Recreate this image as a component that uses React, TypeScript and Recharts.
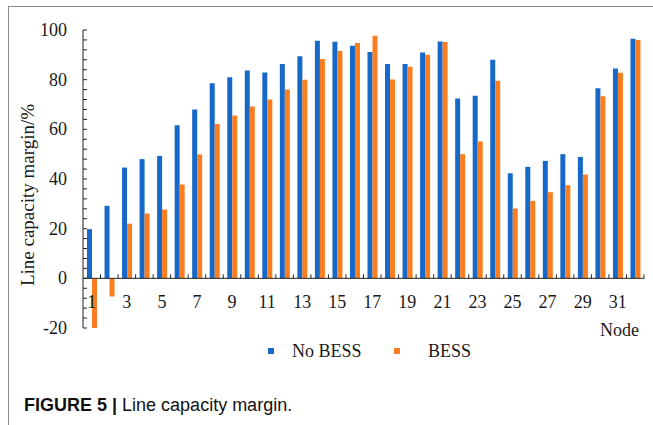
import React from 'react';
import { BarChart, Bar, XAxis, YAxis, Legend, ReferenceLine, Label } from 'recharts';

// Line capacity margin per node, with and without battery storage
const nodes = Array.from({ length: 32 }, (_, i) => String(i + 1));
const noBess = [19.8, 29.2, 44.6, 48, 49.3, 61.6, 68, 78.6, 81, 83.7, 82.9, 86.3, 89.4, 95.7, 95.3, 93.7,
    91.1, 86.3, 86.3, 90.9, 95.4, 72.4, 73.5, 88, 42.3, 44.9, 47.3, 50, 48.9, 76.5, 84.5, 96.5];
const bess = [-20, -7.3, 22, 26.1, 27.7, 37.8, 49.9, 62.1, 65.6, 69.2, 72, 76, 80, 88.3, 91.5, 94.8,
    97.7, 80.1, 85.2, 90, 95.2, 50, 55.1, 79.6, 28.1, 31.2, 34.7, 37.5, 41.8, 73.3, 82.8, 96];
const yTicks = Array.from({ length: 31 }, (_, i) => -20 + i * 4);

const data = nodes.map((n, i) => ({ node: n, noBess: noBess[i], bess: bess[i] }));

const W = 653;
const H = 425;
const MARGIN = { top: 30, right: 9, left: 0, bottom: 0 };
const Y_AXIS_W = 83;
const X_AXIS_H = 97;
const PLOT_W = W - MARGIN.left - MARGIN.right - Y_AXIS_W;
const PLOT_H = H - MARGIN.top - MARGIN.bottom - X_AXIS_H;
const BAND = PLOT_W / nodes.length;
const Y_MIN = -20;
const Y_MAX = 100;
// the category axis crosses at value 0, not at the bottom of the plot
const ZERO_Y = MARGIN.top + PLOT_H * (Y_MAX / (Y_MAX - Y_MIN));

const BLUE = '#1668C9';
const ORANGE = '#FA7D20';
const AXIS = '#222';
const SERIF = '"Liberation Serif", "Times New Roman", serif';

const SERIES = [
    { key: 'noBess', name: 'No BESS', color: BLUE },
    { key: 'bess', name: 'BESS', color: ORANGE },
];

const YTick = (props: any) => {
    const { x, y, payload } = props;
    const v = payload.value;
    return (
        <g>
            <line x1={x} y1={y} x2={x + 4} y2={y} stroke={AXIS} strokeWidth={1} />
            {v % 20 === 0 && (
                <text x={x - 16} y={y + 6} textAnchor="end" fontSize={18} fontFamily={SERIF} fill="#1a1a1a">
                    {v}
                </text>
            )}
        </g>
    );
};

const XTick = (props: any) => {
    const { x, payload, index } = props;
    const edge = x + BAND / 2;
    return (
        <g>
            <line x1={edge} y1={ZERO_Y} x2={edge} y2={ZERO_Y - 4} stroke={AXIS} strokeWidth={1} />
            {index % 2 === 0 && (
                <text x={x} y={ZERO_Y + 30} textAnchor="middle" fontSize={18} fontFamily={SERIF} fill="#1a1a1a">
                    {payload.value}
                </text>
            )}
        </g>
    );
};

// marker and text offsets of the two legend entries
const LEGEND_MARK_X = [268, 394];
const LEGEND_TEXT_X = [292, 428];

const renderLegend = (props: any) => {
    const items = [...(props.payload || [])].sort(
        (a: any, b: any) =>
            SERIES.findIndex(s => s.key === a.dataKey) - SERIES.findIndex(s => s.key === b.dataKey)
    );
    return (
        <div style={{ position: 'relative', width: W, height: 0 }}>
            {items.map((it: any, i: number) => (
                <React.Fragment key={it.value}>
                    <div style={{
                        position: 'absolute', left: LEGEND_MARK_X[i], top: 8, width: 6, height: 6,
                        background: it.color,
                    }} />
                    <div style={{
                        position: 'absolute', left: LEGEND_TEXT_X[i], top: 0, fontFamily: SERIF,
                        fontSize: 18, lineHeight: '22px', color: '#1a1a1a', whiteSpace: 'nowrap',
                    }}>
                        {it.value}
                    </div>
                </React.Fragment>
            ))}
        </div>
    );
};

export default function App() {
    return (
        <div style={{ position: 'absolute', left: 0, top: 0, width: W, height: H, background: '#fff', overflow: 'hidden' }}>
            <div style={{
                position: 'absolute', left: 8, top: 6, width: W, height: H,
                borderTop: '1.5px solid #8a8a8a', borderLeft: '1.5px solid #8a8a8a',
            }} />
            <div style={{ position: 'absolute', left: 0, top: 0 }}>
                <BarChart width={W} height={H} data={data} margin={MARGIN} barSize={5} barGap={0}>
                    <XAxis
                        dataKey="node"
                        height={X_AXIS_H}
                        interval={0}
                        axisLine={false}
                        tickLine={false}
                        tickSize={0}
                        tickMargin={0}
                        tick={<XTick />}
                        label={{
                            content: (p: any) => (
                                <text x={p.viewBox.x + p.viewBox.width - 5} y={p.viewBox.y + 8} textAnchor="end"
                                    fontSize={18} fontFamily={SERIF} fill="#1a1a1a">Node</text>
                            ),
                        }}
                    />
                    <YAxis
                        width={Y_AXIS_W}
                        domain={[Y_MIN, Y_MAX]}
                        ticks={yTicks}
                        interval={0}
                        axisLine={{ stroke: AXIS, strokeWidth: 1 }}
                        tickLine={false}
                        tickSize={0}
                        tickMargin={0}
                        tick={<YTick />}
                    >
                        <Label
                            content={() => {
                                const cx = 27;
                                const cy = 195;
                                return (
                                    <text x={cx} y={cy} transform={`rotate(-90 ${cx} ${cy})`} textAnchor="middle"
                                        dominantBaseline="central" fontSize={19} fontFamily={SERIF} fill="#1a1a1a">
                                        Line capacity margin/%
                                    </text>
                                );
                            }}
                        />
                    </YAxis>
                    <ReferenceLine y={0} stroke={AXIS} strokeWidth={1} />
                    <Legend
                        content={renderLegend}
                        wrapperStyle={{ position: 'absolute', left: 0, top: 340, width: W, height: 0 }}
                    />
                    {SERIES.map(s => (
                        <Bar key={s.key} dataKey={s.key} name={s.name} fill={s.color} isAnimationActive={false} />
                    ))}
                </BarChart>
            </div>
            <div style={{
                position: 'absolute', left: 24, top: 396, fontFamily: '"Liberation Sans", Arial, sans-serif',
                fontSize: 18, lineHeight: '18px', color: '#111', whiteSpace: 'nowrap',
            }}>
                <b>FIGURE 5 |</b> Line capacity margin.
            </div>
        </div>
    );
}
